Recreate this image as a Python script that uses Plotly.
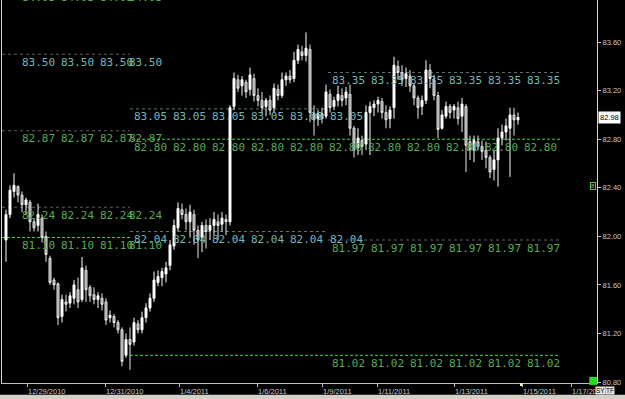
import plotly.graph_objects as go

# ---------------- data ----------------
bar_open = [
    81.97, 82.18, 82.37, 82.41, 82.34, 82.26, 82.28, 82.12, 82.09, 82.15,
    82.00, 81.82, 81.64, 81.61, 81.34, 81.46, 81.45, 81.49, 81.56, 81.48,
    81.72, 81.58, 81.52, 81.48, 81.49, 81.46, 81.33, 81.34, 81.29, 81.23,
    81.02, 81.15, 81.13, 81.28, 81.23, 81.33, 81.41, 81.49, 81.62, 81.66,
    81.69, 81.76, 81.92, 82.07, 82.22, 82.18, 82.12, 82.18, 82.05, 81.99,
    82.09, 82.05, 82.09, 82.12, 82.10, 82.14, 82.12, 83.07, 83.29, 83.24,
    83.27, 83.21, 83.30, 83.16, 83.12, 83.07, 83.12, 83.06, 83.21, 83.16,
    83.29, 83.32, 83.30, 83.45, 83.52, 83.49, 83.54, 83.01, 82.97, 83.01,
    82.99, 83.17, 83.07, 83.12, 83.16, 83.14, 83.17, 82.89, 82.73, 82.79,
    82.76, 83.02, 83.06, 83.09, 83.11, 83.02, 82.97, 83.06, 83.40, 83.35,
    83.30, 83.32, 83.24, 83.14, 83.07, 83.12, 83.37, 83.29, 83.16, 82.89,
    82.99, 83.07, 83.04, 83.06, 82.99, 83.07, 82.78, 82.71, 82.78, 82.74,
    82.71, 82.65, 82.55, 82.63, 82.81, 82.86, 82.89, 83.00, 82.96,
]
bar_high = [
    82.22, 82.42, 82.52, 82.42, 82.37, 82.32, 82.30, 82.15, 82.27, 82.18,
    82.04, 81.84, 81.66, 81.62, 81.52, 81.52, 81.54, 81.64, 81.66, 81.83,
    81.76, 81.60, 81.58, 81.54, 81.53, 81.49, 81.39, 81.36, 81.31, 81.25,
    81.20, 81.25, 81.33, 81.31, 81.38, 81.45, 81.53, 81.71, 81.72, 81.74,
    81.79, 81.97, 82.14, 82.28, 82.27, 82.23, 82.26, 82.22, 82.09, 82.12,
    82.14, 82.15, 82.20, 82.18, 82.20, 82.18, 83.08, 83.35, 83.33, 83.32,
    83.29, 83.39, 83.34, 83.22, 83.19, 83.14, 83.16, 83.26, 83.25, 83.35,
    83.35, 83.37, 83.52, 83.58, 83.57, 83.68, 83.58, 83.08, 83.04, 83.06,
    83.25, 83.21, 83.15, 83.24, 83.22, 83.23, 83.25, 82.91, 82.89, 82.83,
    83.08, 83.11, 83.12, 83.15, 83.14, 83.08, 83.07, 83.48, 83.45, 83.41,
    83.39, 83.37, 83.26, 83.16, 83.16, 83.45, 83.42, 83.33, 83.19, 83.04,
    83.11, 83.09, 83.09, 83.11, 83.14, 83.09, 82.83, 82.83, 82.83, 82.79,
    82.78, 82.67, 82.71, 82.89, 82.92, 82.97, 83.06, 83.06, 83.02,
]
bar_low = [
    81.79, 82.15, 82.32, 82.28, 82.20, 82.18, 82.04, 82.04, 82.04, 81.95,
    81.79, 81.60, 81.56, 81.27, 81.29, 81.38, 81.41, 81.44, 81.41, 81.46,
    81.46, 81.46, 81.44, 81.41, 81.39, 81.27, 81.29, 81.25, 81.20, 80.93,
    81.00, 80.90, 81.10, 81.20, 81.20, 81.29, 81.38, 81.46, 81.59, 81.59,
    81.62, 81.72, 81.89, 82.04, 82.14, 82.05, 81.99, 81.93, 81.82, 81.87,
    81.90, 81.97, 82.01, 81.97, 82.04, 82.01, 82.09, 83.04, 83.19, 83.16,
    83.14, 83.16, 83.11, 83.07, 83.01, 82.99, 83.00, 83.02, 83.12, 83.14,
    83.24, 83.26, 83.27, 83.42, 83.45, 83.44, 82.94, 82.83, 82.91, 82.93,
    82.97, 83.02, 83.04, 83.07, 83.07, 83.08, 82.83, 82.65, 82.67, 82.67,
    82.71, 82.67, 82.99, 83.02, 82.97, 82.89, 82.89, 82.97, 83.29, 83.24,
    83.23, 83.19, 83.08, 82.97, 83.00, 83.09, 83.22, 83.12, 82.81, 82.88,
    82.97, 82.97, 82.97, 82.92, 82.86, 82.53, 82.63, 82.61, 82.71, 82.63,
    82.56, 82.48, 82.46, 82.41, 82.75, 82.79, 82.49, 82.83, 82.92,
]
bar_close = [
    82.18, 82.38, 82.42, 82.34, 82.26, 82.30, 82.12, 82.07, 82.18, 81.99,
    81.85, 81.62, 81.60, 81.33, 81.48, 81.44, 81.51, 81.60, 81.46, 81.74,
    81.56, 81.51, 81.48, 81.51, 81.44, 81.31, 81.35, 81.29, 81.23, 80.97,
    81.15, 81.11, 81.29, 81.23, 81.33, 81.41, 81.49, 81.64, 81.67, 81.71,
    81.74, 81.93, 82.09, 82.23, 82.18, 82.12, 82.20, 82.05, 81.97, 82.09,
    82.04, 82.09, 82.14, 82.09, 82.15, 82.12, 83.06, 83.30, 83.22, 83.29,
    83.19, 83.33, 83.16, 83.12, 83.06, 83.12, 83.04, 83.22, 83.16, 83.29,
    83.32, 83.29, 83.45, 83.54, 83.49, 83.55, 83.02, 82.96, 83.01, 82.97,
    83.19, 83.06, 83.12, 83.17, 83.12, 83.19, 82.89, 82.71, 82.81, 82.74,
    83.02, 83.07, 83.09, 83.12, 83.02, 82.96, 83.04, 83.41, 83.35, 83.29,
    83.34, 83.24, 83.14, 83.06, 83.12, 83.37, 83.30, 83.16, 82.88, 83.00,
    83.07, 83.02, 83.07, 82.97, 83.09, 82.75, 82.71, 82.79, 82.74, 82.70,
    82.65, 82.53, 82.63, 82.81, 82.86, 82.91, 83.00, 82.96, 82.98,
]
bar_index = list(range(len(bar_close)))

date_labels = ["12/29/2010", "12/31/2010", "1/4/2011", "1/6/2011", "1/9/2011",
               "1/11/2011", "1/13/2011", "1/15/2011", "1/17/2011"]
date_positions = [5.25, 24.75, 43.25, 62.75, 79.0, 92.75, 112.0, 129.0, 141.25]

price_ticks = [80.80, 81.20, 81.60, 82.00, 82.40, 82.80, 83.20, 83.60]
last_price = 82.98

level_prices = [83.50, 83.05, 83.35, 82.87, 82.80, 82.24, 81.99, 82.04, 81.97, 81.02]
level_labels = ["83.50", "83.05", "83.35", "82.87", "82.80", "82.24", "81.10", "82.04", "81.97", "81.02"]
top_label = "84.03"

# ---------------- layout / style ----------------
TEAL = "#72b8b8"
GREEN_TXT = "#52ad52"
GRAY_DOT = "#5f5f5f"
TEAL_DOT = "#557575"
GREEN_DASH = "#3ad83a"
GREEN_DASH_STYLE = "3px,2px"

left_seg = (-1, 31)
mid_seg = (31, 80.5)
right_seg = (80.5, 138.5)
left_copies = [3.5, 13.25, 23.0, 30.25]
mid_copies = [31.5, 41.25, 51.0, 60.75, 70.5, 80.5]
right_copies = [81.0, 90.75, 100.5, 110.25, 120.0, 129.75]
wide_copies = [31.5, 41.25, 51.0, 60.75, 70.5, 80.25, 90.0, 99.75, 109.5, 119.25, 129.0]

# per level: segment, line color, dash, text color, copies
level_style = [
    (left_seg, GRAY_DOT, "dot", TEAL, left_copies),
    (mid_seg, TEAL_DOT, "dot", TEAL, mid_copies),
    (right_seg, TEAL_DOT, "dot", TEAL, right_copies),
    (left_seg, GRAY_DOT, "dot", GREEN_TXT, left_copies),
    ((31.5, 138.5), GREEN_DASH, GREEN_DASH_STYLE, GREEN_TXT, wide_copies),
    (left_seg, GRAY_DOT, "dot", GREEN_TXT, left_copies),
    ((-1, 31.5), GREEN_DASH, GREEN_DASH_STYLE, GREEN_TXT, left_copies),
    ((31, 80.0), TEAL_DOT, "dot", TEAL, mid_copies),
    (right_seg, GRAY_DOT, "dot", GREEN_TXT, right_copies),
    ((31, 138.5), GREEN_DASH, GREEN_DASH_STYLE, GREEN_TXT, right_copies),
]

fig = go.Figure()
fig.add_trace(go.Candlestick(
    x=bar_index, open=bar_open, high=bar_high, low=bar_low, close=bar_close,
    increasing=dict(line=dict(color="#ffffff", width=1), fillcolor="#ffffff"),
    decreasing=dict(line=dict(color="#e8e8e8", width=1), fillcolor="#8c8c8c"),
    whiskerwidth=0, showlegend=False, hoverinfo="skip",
))

shapes = []
annotations = []
mono = "DejaVu Sans Mono"
for price, label, (seg, lcol, dash, tcol, copies) in zip(level_prices, level_labels, level_style):
    shapes.append(dict(type="line", xref="x", yref="y", x0=seg[0], x1=seg[1], y0=price, y1=price,
                       line=dict(color=lcol, width=1, dash=dash), layer="below"))
    for cx in copies:
        annotations.append(dict(x=cx, y=price, xref="x", yref="y", text=label, showarrow=False,
                                xanchor="left", yanchor="middle", yshift=-8,
                                font=dict(family=mono, size=11, color=tcol)))

for cx in left_copies:
    annotations.append(dict(x=cx, y=1, xref="x", yref="paper", text=top_label, showarrow=False,
                            xanchor="left", yanchor="middle", yshift=3,
                            font=dict(family=mono, size=11, color=GREEN_TXT)))

for pos, lab in zip(date_positions, date_labels):
    annotations.append(dict(x=pos, y=0, xref="x", yref="paper", text=lab, showarrow=False,
                            xanchor="left", yanchor="top", yshift=-2, xshift=-1,
                            font=dict(family="Liberation Sans", size=7.5, color="#c8c8c8")))

# last price box
annotations.append(dict(x=1, y=last_price, xref="paper", yref="y", text=f"{last_price:.2f}",
                        showarrow=False, xanchor="left", yanchor="middle", xshift=1,
                        bgcolor="#ffffff", borderpad=1,
                        font=dict(family="Liberation Sans", size=7.5, color="#000000")))
# small green marker box
annotations.append(dict(x=0.9933, y=0.514, xref="paper", yref="paper", text="8", showarrow=False,
                        xanchor="center", yanchor="middle", bordercolor="#55c055", borderwidth=1,
                        borderpad=0, bgcolor="#000000",
                        font=dict(family="Liberation Sans", size=6, color="#7fd07f")))
# SY / TF buttons
annotations.append(dict(x=1, y=0, xref="paper", yref="paper", text="SY", showarrow=False,
                        xanchor="left", yanchor="top", xshift=-2, yshift=-3, bgcolor="#e6e6e6",
                        borderpad=0, font=dict(family="Liberation Sans", size=6.5, color="#000000")))
annotations.append(dict(x=1, y=0, xref="paper", yref="paper", text="TF", showarrow=False,
                        xanchor="left", yanchor="top", xshift=8, yshift=-3, bgcolor="#e6e6e6",
                        borderpad=0, font=dict(family="Liberation Sans", size=6.5, color="#000000")))

# green square bottom right, yellow marker, scrollbar strip
shapes.append(dict(type="rect", xref="paper", yref="paper", x0=0.987, x1=1.0, y0=-0.005, y1=0.016,
                   fillcolor="#22dd22", line=dict(width=0)))
shapes.append(dict(type="rect", xref="x", yref="paper", x0=128.5, x1=129.0, y0=-0.008, y1=0.0,
                   fillcolor="#ffff99", line=dict(width=0)))
shapes.append(dict(type="rect", xref="paper", yref="paper", x0=-0.01, x1=1.05, y0=-0.045, y1=-0.031,
                   fillcolor="#d4d0c8", line=dict(width=0)))

fig.update_layout(
    width=625, height=399,
    margin=dict(l=2, r=28, t=0, b=16, pad=0),
    paper_bgcolor="#000000", plot_bgcolor="#000000",
    showlegend=False,
    shapes=shapes, annotations=annotations,
    xaxis=dict(range=[-1, 147.75], rangeslider=dict(visible=False), showgrid=False, zeroline=False,
               showline=True, linecolor="#bdbdbd", linewidth=1, ticks="outside", ticklen=3,
               tickcolor="#bdbdbd", tickvals=date_positions, showticklabels=False, fixedrange=True),
    yaxis=dict(side="right", range=[80.792, 83.947], showgrid=False, zeroline=False,
               showline=True, mirror=True, linecolor="#d8d8d8", linewidth=1,
               ticks="outside", ticklen=3, tickcolor="#c8c8c8",
               tickvals=price_ticks, ticktext=[f"{p:.2f}" for p in price_ticks],
               tickfont=dict(family="Liberation Sans", size=7.5, color="#c8c8c8")),
)

fig.write_html("out.html")
